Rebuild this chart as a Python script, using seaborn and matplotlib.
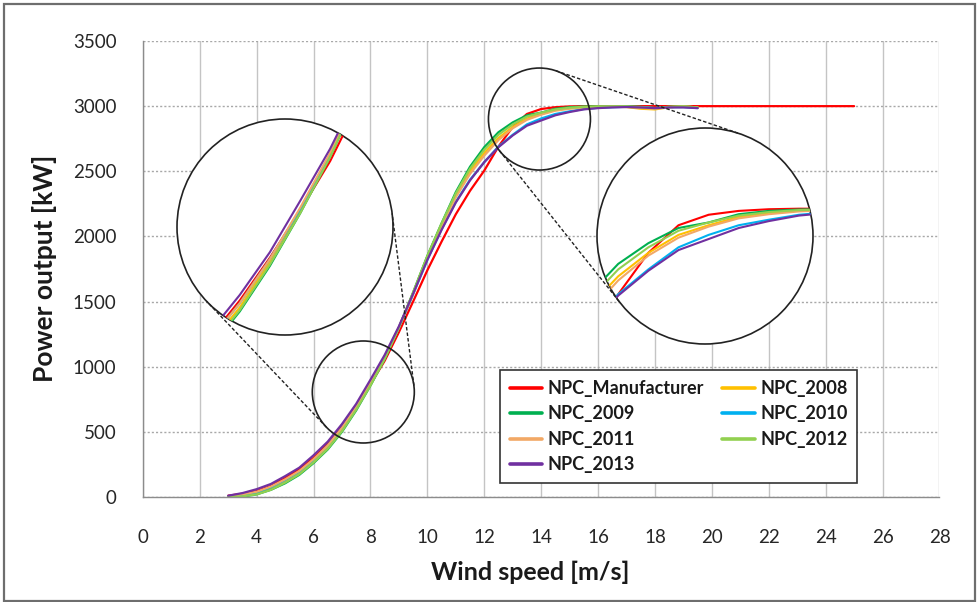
import numpy as np
import pandas as pd
import matplotlib
matplotlib.use("Agg")
import matplotlib.pyplot as plt
from matplotlib.patches import Circle, Ellipse
from matplotlib.lines import Line2D
import seaborn as sns

# ---------------- data ----------------
speed_npc = [3.0, 3.5, 4.0, 4.5, 5.0, 5.5, 6.0, 6.5, 7.0, 7.5, 8.0, 8.5, 9.0, 9.5,
             10.0, 10.5, 11.0, 11.5, 12.0, 12.5, 13.0, 13.5, 14.0, 14.5, 15.0, 15.5,
             16.0, 16.5, 17.0, 17.5, 18.0, 18.5, 19.0, 19.5]
speed_man = [3.0, 3.5, 4.0, 4.5, 5.0, 5.5, 6.0, 6.5, 7.0, 7.5, 8.0, 8.5, 9.0, 9.5,
             10.0, 10.5, 11.0, 11.5, 12.0, 12.5, 13.0, 13.5, 14.0, 14.5, 15.0, 15.5,
             16.0, 16.5, 17.0, 17.5, 18.0, 18.5, 19.0, 19.5, 20.0, 20.5, 21.0, 21.5,
             22.0, 22.5, 23.0, 23.5, 24.0, 24.5, 25.0]

npc_manufacturer = [10, 25, 45, 85, 145, 215, 300, 405, 540, 695, 865, 1045, 1265, 1500,
                    1740, 1960, 2170, 2350, 2505, 2690, 2840, 2940, 2978, 2992, 2998, 3000,
                    3000, 3000, 3000, 3000, 3000, 3000, 3000, 3000, 3000, 3000, 3000, 3000,
                    3000, 3000, 3000, 3000, 3000, 3000, 3000]
npc_2008 = [5, 10, 30, 70, 120, 185, 275, 380, 515, 680, 860, 1065, 1300, 1565,
            1845, 2090, 2315, 2500, 2640, 2755, 2840, 2905, 2940, 2970, 2985, 2993,
            2997, 2997, 2993, 2980, 2975, 2992, 2998, 2990]
npc_2009 = [0, 3, 20, 55, 105, 170, 260, 365, 500, 665, 855, 1060, 1300, 1570,
            1850, 2100, 2340, 2535, 2685, 2800, 2875, 2930, 2950, 2980, 2992, 2997,
            2998, 2999, 2998, 2995, 2985, 2995, 2998, 2990]
npc_2010 = [5, 15, 35, 75, 130, 195, 285, 395, 530, 690, 870, 1070, 1300, 1555,
            1820, 2055, 2265, 2435, 2570, 2690, 2780, 2860, 2905, 2940, 2960, 2978,
            2987, 2992, 2995, 2992, 2985, 2992, 2993, 2985]
npc_2011 = [5, 20, 40, 80, 135, 200, 290, 395, 530, 690, 875, 1075, 1300, 1560,
            1835, 2080, 2300, 2480, 2620, 2740, 2830, 2895, 2935, 2965, 2980, 2990,
            2995, 2997, 2995, 2987, 2980, 2992, 2998, 2990]
npc_2012 = [0, 5, 20, 55, 110, 175, 265, 370, 505, 670, 855, 1060, 1300, 1570,
            1850, 2100, 2330, 2520, 2665, 2780, 2860, 2920, 2950, 2975, 2988, 2995,
            2997, 2997, 2998, 2993, 2985, 2995, 2998, 2990]
npc_2013 = [10, 30, 60, 100, 160, 225, 320, 425, 560, 715, 900, 1090, 1310, 1560,
            1820, 2050, 2260, 2430, 2570, 2685, 2775, 2850, 2890, 2930, 2955, 2975,
            2985, 2990, 2993, 2990, 2985, 2990, 2990, 2985]

series_names = ["NPC_Manufacturer", "NPC_2008", "NPC_2009", "NPC_2010",
                "NPC_2011", "NPC_2012", "NPC_2013"]
series_colors = ["#FF0000", "#FFC000", "#00B050", "#00B0F0",
                 "#F2A865", "#92D050", "#7030A0"]

x_ticks = [0, 2, 4, 6, 8, 10, 12, 14, 16, 18, 20, 22, 24, 26, 28]
y_ticks = [0, 500, 1000, 1500, 2000, 2500, 3000, 3500]

frames = [pd.DataFrame({"speed": speed_man, "power": npc_manufacturer, "series": series_names[0]})]
for name, vals in zip(series_names[1:], [npc_2008, npc_2009, npc_2010, npc_2011, npc_2012, npc_2013]):
    frames.append(pd.DataFrame({"speed": speed_npc, "power": vals, "series": name}))
df = pd.concat(frames, ignore_index=True)
palette = dict(zip(series_names, series_colors))

# ---------------- figure ----------------
sns.set_theme(style="white")
plt.rcParams["font.family"] = ["Lato", "DejaVu Sans"]

W, H, DPI = 979, 602, 100
fig = plt.figure(figsize=(W / DPI, H / DPI), dpi=DPI)
fig.patch.set_facecolor("white")

L, R = 142.8 / W, 939.5 / W
T, B = 1 - 41 / H, 1 - 497 / H
ax = fig.add_axes([L, B, R - L, T - B])

def draw_lines(a, lw):
    sns.lineplot(data=df, x="speed", y="power", hue="series", palette=palette,
                 hue_order=series_names, estimator=None, errorbar=None,
                 linewidth=lw, legend=False, ax=a, sort=False)

draw_lines(ax, 1.6)
ax.set_xlim(0, 28)
ax.set_ylim(0, 3500)
ax.set_xticks(x_ticks)
ax.set_yticks(y_ticks)
ax.set_xlabel("")
ax.set_ylabel("")
ax.set_axisbelow(True)
ax.xaxis.grid(True, color="#c4c4c4", lw=1.0, ls="-")
ax.yaxis.grid(True, color="#a8a8a8", lw=1.0, ls=(0, (1.5, 1.5)))
for s in ["top", "right"]:
    ax.spines[s].set_visible(False)
for s in ["left", "bottom"]:
    ax.spines[s].set_color("#8c8c8c")
    ax.spines[s].set_linewidth(1.0)
ax.tick_params(axis="both", direction="out", length=5, width=1.0, color="#8c8c8c",
               labelsize=13.5, labelcolor="#262626")
ax.tick_params(axis="x", pad=18)
ax.tick_params(axis="y", pad=14)

fig.text(530 / W, 1 - 572 / H, "Wind speed [m/s]", ha="center", va="center",
         fontsize=18, fontweight="bold", color="#1a1a1a")
fig.text(45 / W, 1 - 268 / H, "Power output [kW]", ha="center", va="center",
         rotation=90, fontsize=19, fontweight="bold", color="#1a1a1a")

# ---------------- legend ----------------
handles = {n: Line2D([], [], color=c, lw=2.6) for n, c in zip(series_names, series_colors)}
order = ["NPC_Manufacturer", "NPC_2009", "NPC_2011", "NPC_2013",
         "NPC_2008", "NPC_2010", "NPC_2012"]
leg = ax.legend([handles[n] for n in order], order, ncol=2, loc="upper left",
                bbox_to_anchor=(500 / W, 1 - 370 / H), bbox_transform=fig.transFigure,
                borderaxespad=0, frameon=True, fancybox=False, framealpha=1,
                edgecolor="#333333", prop={"weight": "bold", "size": 13},
                handlelength=1.8, handletextpad=0.3, columnspacing=1.0,
                labelspacing=0.47, borderpad=0.55)
leg.get_frame().set_linewidth(1.2)
for t in leg.get_texts():
    t.set_color("#1a1a1a")

# ---------------- zoom circles ----------------
def data_to_px(x, y):
    d = ax.transData.transform((x, y))
    f = fig.transFigure.inverted().transform(d)
    return f[0] * W, f[1] * H  # pixel coords, y up

zooms = [
    # (small centre in data, small r px, big centre px (y down), big r px)
    ((7.75, 806), 51, (285, 227), 108),
    ((13.94, 2901), 51, (705, 236), 108),
]

for (sx, sy), r1, (bx, by_down), r2 in zooms:
    c1 = np.array(data_to_px(sx, sy))
    c2 = np.array([bx, H - by_down])
    fig.add_artist(Ellipse((c1[0] / W, c1[1] / H), 2 * r1 / W, 2 * r1 / H,
                           transform=fig.transFigure, fill=False, ec="#222222", lw=1.2))
    d = c2 - c1
    D = np.hypot(*d)
    th = np.arctan2(d[1], d[0])
    al = np.arccos((r1 - r2) / D)
    for sgn in (1, -1):
        a = th + sgn * al
        p1 = c1 + r1 * np.array([np.cos(a), np.sin(a)])
        p2 = c2 + r2 * np.array([np.cos(a), np.sin(a)])
        fig.add_artist(Line2D([p1[0] / W, p2[0] / W], [p1[1] / H, p2[1] / H],
                              transform=fig.transFigure, color="#222222", lw=1.0,
                              ls=(0, (2.5, 1.5))))
    iax = fig.add_axes([(c2[0] - r2) / W, (c2[1] - r2) / H, 2 * r2 / W, 2 * r2 / H])
    iax.set_facecolor("none")
    iax.axis("off")
    circ = Circle((0.5, 0.5), 0.5, transform=iax.transAxes, facecolor="white",
                  edgecolor="#222222", lw=1.2, zorder=0)
    circ.set_clip_on(False)
    iax.add_patch(circ)
    draw_lines(iax, 1.5)
    hx = r1 / ((R - L) * W) * 28
    hy = r1 / ((T - B) * H) * 3500
    iax.set_xlim(sx - hx, sx + hx)
    iax.set_ylim(sy - hy, sy + hy)
    for ln in iax.get_lines():
        ln.set_clip_path(circ)
    iax.set_xlabel("")
    iax.set_ylabel("")

fig.add_artist(plt.Rectangle((4 / W, 1 / H), (W - 8) / W, (H - 5) / H,
                             transform=fig.transFigure, fill=False, ec="#6e6e6e", lw=1.6))

fig.savefig("out.png", dpi=DPI)
